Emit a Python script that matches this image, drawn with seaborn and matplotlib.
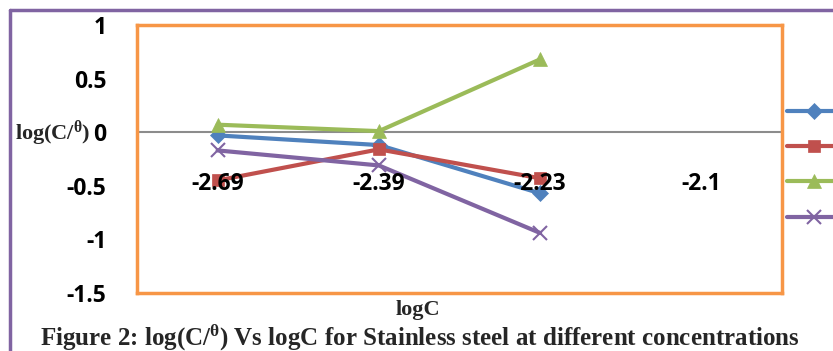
import matplotlib
matplotlib.use("Agg")
import matplotlib.pyplot as plt
from matplotlib.lines import Line2D
from matplotlib.font_manager import FontProperties
import seaborn as sns
import pandas as pd

# x categories (logC) and log(C/theta) values for each series
log_c = ["-2.69", "-2.39", "-2.23", "-2.1"]
series_names = ["", "", "", ""]
series1 = [-0.03, -0.12, -0.57]
series2 = [-0.45, -0.16, -0.43]
series3 = [0.07, 0.01, 0.68]
series4 = [-0.17, -0.31, -0.94]
y_ticks = [1, 0.5, 0, -0.5, -1, -1.5]
y_tick_labels = ["1", "0.5", "0", "-0.5", "-1", "-1.5"]

colors = ["#4F81BD", "#C0504D", "#9BBB59", "#8064A2"]
markers = ["D", "s", "^", "x"]
msizes = [8, 9, 10, 10]

sns.set_theme(style="white")
plt.rcParams["axes.unicode_minus"] = False
plt.rcParams["mathtext.fontset"] = "custom"
plt.rcParams["mathtext.rm"] = "Liberation Serif:bold"
plt.rcParams["mathtext.it"] = "Liberation Serif:bold"

frames = []
for i, vals in enumerate([series1, series2, series3, series4]):
    frames.append(pd.DataFrame({"pos": range(len(vals)), "val": vals, "series": i}))
df = pd.concat(frames, ignore_index=True)

fig = plt.figure(figsize=(8.33, 3.51), dpi=100)
ax = fig.add_axes([137 / 833, 1 - 293 / 351, (782 - 137) / 833, (293 - 25) / 351])

ax.axhline(0, color="#8C8C8C", lw=1.5, zorder=1)

for i, (col, mk, ms) in enumerate(zip(colors, markers, msizes)):
    sub = df[df["series"] == i]
    sns.lineplot(data=sub, x="pos", y="val", ax=ax, color=col, lw=3,
                 marker=mk, markersize=ms, markeredgecolor=col,
                 markeredgewidth=1.5 if mk == "x" else 0.5, zorder=2, legend=False)

ax.set_xlim(-0.5, len(log_c) - 0.5)
ax.set_ylim(-1.5, 1)
ax.set_xticks(range(len(log_c)))
ax.set_xticklabels(log_c)
ax.set_yticks(y_ticks)
ax.set_yticklabels(y_tick_labels)

tick_font = FontProperties(family="Open Sans", weight="bold", size=16.5)
for lab in ax.get_xticklabels() + ax.get_yticklabels():
    lab.set_fontproperties(tick_font)
    lab.set_color("black")
ax.tick_params(axis="y", length=0, pad=22)
ax.tick_params(axis="x", length=0, pad=-87)
# category labels sit on top of the series lines
ax.xaxis.set_zorder(4)

ax.set_xlabel("")
ax.set_ylabel("")
fig.text(418 / 833, 1 - 310 / 351, "logC", ha="center", va="center",
         family="Liberation Serif", weight="bold", size=16)
fig.text(90 / 833, 1 - 133 / 351, r"log(C/$^{\theta}$)", ha="right", va="center",
         family="Liberation Serif", weight="bold", size=16)

for sp in ax.spines.values():
    sp.set_visible(True)
    sp.set_color("#F79646")
    sp.set_linewidth(2.5)
    sp.set_zorder(5)

# legend handles on the right edge
handles = [Line2D([], [], color=c, lw=3, marker=m, markersize=s, markeredgecolor=c,
                  markeredgewidth=1.5 if m == "x" else 0.5)
           for c, m, s in zip(colors, markers, msizes)]
fig.legend(handles, series_names, loc="upper left", bbox_to_anchor=(787 / 833, 1 - 104 / 351),
           frameon=False, handlelength=3.2, handletextpad=0.6, labelspacing=1.15,
           prop=dict(family="Lato", size=12), borderpad=0, borderaxespad=0)

# purple outer frame
pur = "#8064A2"
fig.add_artist(Line2D([10 / 833, 10 / 833], [0, 1 - 10 / 351], color=pur, lw=2.5))
fig.add_artist(Line2D([10 / 833, 1], [1 - 10 / 351, 1 - 10 / 351], color=pur, lw=2.5))

fig.text(420 / 833, 1 - 337 / 351,
         r"Figure 2: log(C/$^{\theta}$) Vs logC for Stainless steel at different concentrations",
         ha="center", va="center", family="Liberation Serif", weight="bold", size=18)

fig.savefig("out.png", dpi=100)
